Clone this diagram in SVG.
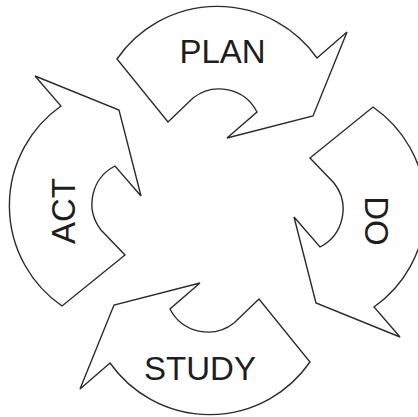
<svg xmlns="http://www.w3.org/2000/svg" width="418" height="417" viewBox="0 0 418 417">
<defs>
<style>
.arrow{fill:#ffffff;stroke:#2b2b2b;stroke-width:1.4;stroke-linejoin:miter}
.lbl{font-family:"Liberation Sans",Arial,sans-serif;font-size:33px;fill:#1e1e1e;text-anchor:middle}
</style>
<path id="arrowShape" d="M117,59 A122,122 0 0 1 317,58 L347,32 L313,116 L227,138 L257,112 A42.5,42.5 0 0 0 193,98 L168,122 Z"/>
</defs>
<rect width="418" height="417" fill="#ffffff"/>
<g id="plan">
<use href="#arrowShape" class="arrow"/>
<text class="lbl" x="222.5" y="63">PLAN</text>
</g>
<g id="do">
<use href="#arrowShape" class="arrow" transform="translate(432,-10) rotate(90)"/>
<text class="lbl" transform="translate(365,221) rotate(90)" x="0" y="0">DO</text>
</g>
<g id="study">
<use href="#arrowShape" class="arrow" transform="translate(427,421) rotate(180)"/>
<text class="lbl" x="200" y="380">STUDY</text>
</g>
<g id="act">
<use href="#arrowShape" class="arrow" transform="translate(3,423) rotate(-90)"/>
<text class="lbl" transform="translate(75,211) rotate(-90)" x="0" y="0">ACT</text>
</g>
<g id="connectors"></g>
</svg>
